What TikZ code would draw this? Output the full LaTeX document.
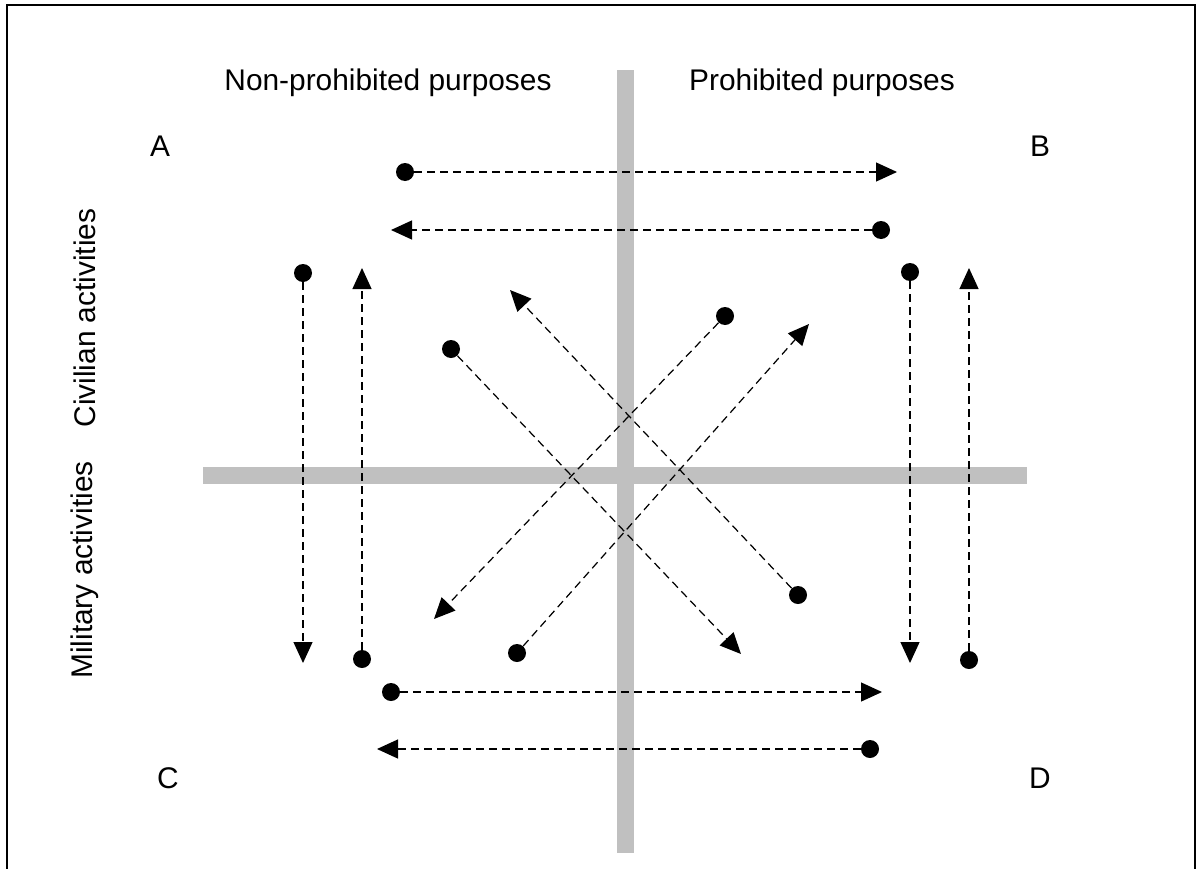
\documentclass[tikz,border=0pt]{standalone}
\usepackage{fontspec}
\setmainfont{Liberation Sans}
\usetikzlibrary{arrows.meta}
\definecolor{barGray}{RGB}{192,192,192}
\tikzset{
  dot/.style={circle, fill=black, inner sep=0pt, minimum size=0.36cm},
  flow/.style={line width=0.7pt, dash pattern=on 0.16cm off 0.1cm, -{Triangle[length=0.42cm,width=0.38cm]}},
  bar/.style={barGray, line width=0.34cm},
  label/.style={font=\fontsize{17}{20}\selectfont}
}
\begin{document}
\begin{tikzpicture}[x=0.02cm, y=-0.02cm]
        \useasboundingbox (0,0) rectangle (1197,869);
        \draw[line width=1.6pt] (7,869) -- (7,5) -- (1195,5) -- (1195,869);

        % grey axes
        \draw[bar] (625,70) -- (625,853);
        \draw[bar] (203,475) -- (1027,475);

        % headings and corners
        \node[label] (nonprohib) at (388,83) {Non-prohibited purposes};
        \node[label] (prohib) at (822,83) {Prohibited purposes};
        \node[label] (cornerA) at (160,146) {A};
        \node[label] (cornerB) at (1040,146) {B};
        \node[label] (cornerC) at (168,778) {C};
        \node[label] (cornerD) at (1040,778) {D};
        \node[label, rotate=90] (civilian) at (85,318) {Civilian activities};
        \node[label, rotate=90] (military) at (85,570) {Military activities};

        % start points
        \node[dot] (d1) at (405,172) {};
        \node[dot] (d2) at (881,230) {};
        \node[dot] (d3) at (303,273) {};
        \node[dot] (d4) at (362,659) {};
        \node[dot] (d5) at (910,272) {};
        \node[dot] (d6) at (969,660) {};
        \node[dot] (d7) at (451,349) {};
        \node[dot] (d8) at (798,595) {};
        \node[dot] (d9) at (725,316) {};
        \node[dot] (d10) at (517,653) {};
        \node[dot] (d11) at (391,692) {};
        \node[dot] (d12) at (870,749) {};

        % arrow ends
        \coordinate (t1) at (897,172);
        \coordinate (t2) at (391,230);
        \coordinate (t3) at (303,663);
        \coordinate (t4) at (362,268);
        \coordinate (t5) at (910,663);
        \coordinate (t6) at (969,268);
        \coordinate (t7) at (741,654);
        \coordinate (t8) at (510,290);
        \coordinate (t9) at (434,619);
        \coordinate (t10) at (809,324);
        \coordinate (t11) at (882,692);
        \coordinate (t12) at (377,749);

        \foreach \i in {1,...,12}
          \draw[flow] (d\i) -- (t\i);
    \end{tikzpicture}
\end{document}
